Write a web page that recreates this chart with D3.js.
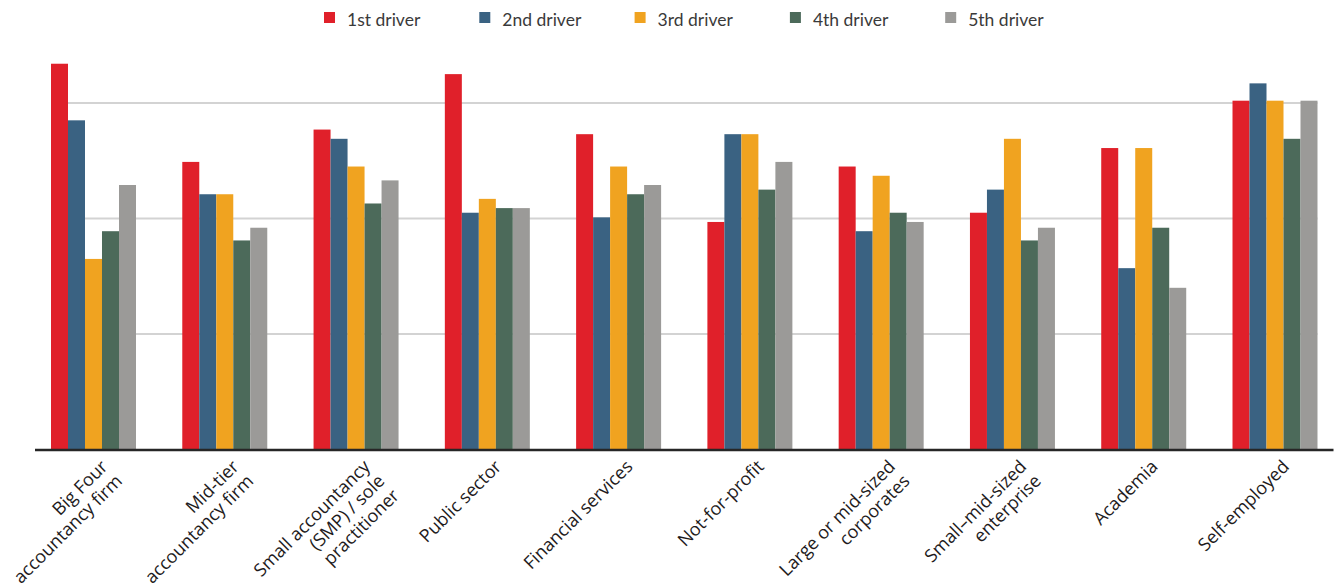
<!DOCTYPE html>
<html>
<head>
<meta charset="utf-8">
<script src="https://cdn.jsdelivr.net/npm/d3@7"></script>
<style>
  html, body { margin: 0; padding: 0; background: #fff; }
  svg { display: block; }
</style>
</head>
<body>
<svg id="chart" width="1335" height="587"></svg>
<script>
// Workplace categories (label lines as drawn under the axis)
const categories = [
  ["Big Four", "accountancy firm"],
  ["Mid-tier", "accountancy firm"],
  ["Small accountancy", "(SMP) / sole", "practitioner"],
  ["Public sector"],
  ["Financial services"],
  ["Not-for-profit"],
  ["Large or mid-sized", "corporates"],
  ["Small–mid-sized", "enterprise"],
  ["Academia"],
  ["Self-employed"]
];

const seriesNames = ["1st driver", "2nd driver", "3rd driver", "4th driver", "5th driver"];

// Values for each driver, one per category
const driver1 = [33.4, 24.9, 27.7, 32.5, 27.3, 19.7, 24.5, 20.5, 26.1, 30.2];
const driver2 = [28.5, 22.1, 26.9, 20.5, 20.1, 27.3, 18.9, 22.5, 15.7, 31.7];
const driver3 = [16.5, 22.1, 24.5, 21.7, 24.5, 27.3, 23.7, 26.9, 26.1, 30.2];
const driver4 = [18.9, 18.1, 21.3, 20.9, 22.1, 22.5, 20.5, 18.1, 19.2, 26.9];
const driver5 = [22.9, 19.2, 23.3, 20.9, 22.9, 24.9, 19.7, 19.2, 14.0, 30.2];

const gridTicks = [10, 20, 30];

const colors = ["#E0202A", "#3A6282", "#F0A320", "#4C6A5A", "#9B9A98"];

const seriesValues = [driver1, driver2, driver3, driver4, driver5];
const keys = categories.map(c => c.join(" "));
const rows = keys.map((k, i) => ({
  key: k,
  lines: categories[i],
  values: seriesValues.map((arr, s) => ({ series: seriesNames[s], value: arr[i], color: colors[s] }))
}));

const svg = d3.select("#chart");

const axisLeft = 35, axisRight = 1333.5;
const baseY = 449.5;

const x0 = d3.scaleBand()
  .domain(keys)
  .range([axisLeft, axisRight])
  .paddingInner(0.3526)
  .paddingOuter(0.1219);

const x1 = d3.scaleBand()
  .domain(seriesNames)
  .range([0, x0.bandwidth()])
  .padding(0);

const y = d3.scaleLinear()
  .domain([0, 30])
  .range([baseY, 103]);

// Horizontal gridlines
const gridStart = x0(keys[0]);
const gridEnd = x0(keys[keys.length - 1]) + x0.bandwidth();
svg.append("g")
  .selectAll("line")
  .data(gridTicks)
  .join("line")
  .attr("x1", gridStart)
  .attr("x2", gridEnd)
  .attr("y1", d => y(d))
  .attr("y2", d => y(d))
  .attr("stroke", "#D3D3D3")
  .attr("stroke-width", 2);

// Grouped bars
const groups = svg.append("g")
  .selectAll("g")
  .data(rows)
  .join("g")
  .attr("transform", d => `translate(${x0(d.key)},0)`);

groups.selectAll("rect")
  .data(d => d.values)
  .join("rect")
  .attr("x", d => x1(d.series))
  .attr("width", x1.bandwidth())
  .attr("y", d => y(d.value))
  .attr("height", d => y(0) - y(d.value))
  .attr("fill", d => d.color);

// Category axis line
svg.append("line")
  .attr("x1", axisLeft)
  .attr("x2", axisRight)
  .attr("y1", baseY + 0.5)
  .attr("y2", baseY + 0.5)
  .attr("stroke", "#262626")
  .attr("stroke-width", 2.5);

// Rotated category labels, right-aligned lines
const labelFont = 18;
const labels = svg.append("g")
  .attr("font-family", "'Open Sans', sans-serif")
  .attr("font-size", labelFont)
  .attr("fill", "#1E1B1C")
  .selectAll("text")
  .data(rows)
  .join("text")
  .attr("text-anchor", "end")
  .attr("transform", d => `translate(${x0(d.key) + x0.bandwidth() / 2 + 6},${baseY + 9}) rotate(-45)`);

labels.selectAll("tspan")
  .data(d => d.lines)
  .join("tspan")
  .attr("x", 0)
  .attr("y", (d, i) => 13 + i * 20.5)
  .text(d => d);

// Legend
const legend = svg.append("g")
  .attr("font-family", "Lato, sans-serif")
  .attr("font-size", 17.5)
  .attr("fill", "#3A3A3A");

const legendItems = legend.selectAll("g")
  .data(seriesNames)
  .join("g")
  .attr("transform", (d, i) => `translate(${324 + i * 155.3},12)`);

legendItems.append("rect")
  .attr("width", 11)
  .attr("height", 11)
  .attr("fill", (d, i) => colors[i]);

legendItems.append("text")
  .attr("x", 23)
  .attr("y", 13.5)
  .text(d => d);
</script>
</body>
</html>
